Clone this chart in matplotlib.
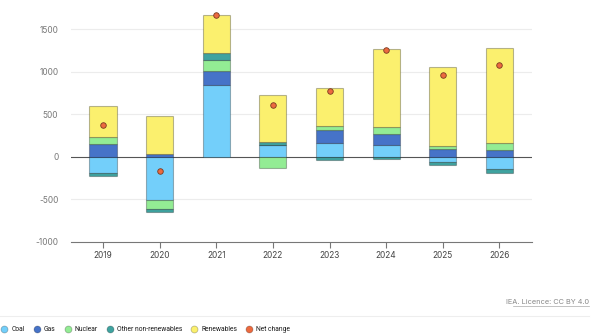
import numpy as np
import matplotlib
matplotlib.use("Agg")
import matplotlib.pyplot as plt
from matplotlib.lines import Line2D

plt.rcParams['font.family'] = ['Inter', 'DejaVu Sans']
plt.rcParams['axes.unicode_minus'] = False

# Annual change by source
years = ['2019', '2020', '2021', '2022', '2023', '2024', '2025', '2026']
coal = [-195, -505, 847, 135, 159, 132, -68, -147]
gas = [147, 30, 161, 0, 154, 133, 88, 80]
nuclear = [83, -115, 130, -132, 50, 83, 39, 83]
other = [-35, -35, 79, 35, -41, -26, -36, -51]
renewables = [370, 445, 448, 559, 448, 920, 932, 1113]
net_change = [375, -175, 1665, 604, 772, 1256, 965, 1083]

series = [
    ('Coal', coal, '#73cffa'),
    ('Gas', gas, '#4673c8'),
    ('Nuclear', nuclear, '#93ec94'),
    ('Other non-renewables', other, '#3fa3a0'),
    ('Renewables', renewables, '#fbf06e'),
]
net_color = '#ec6a3f'

fig = plt.figure(figsize=(6, 3.35), dpi=100)
ax = fig.add_axes([0.118, 0.279, 0.769, 0.697])

x = np.arange(len(years))
width = 0.48
pos_base = np.zeros(len(years))
neg_base = np.zeros(len(years))
for name, vals, color in series:
    v = np.array(vals, dtype=float)
    bottom = np.where(v >= 0, pos_base, neg_base)
    ax.bar(x, v, width, bottom=bottom, color=color, edgecolor=(0, 0, 0, 0.28),
           linewidth=0.8, zorder=3)
    pos_base += np.clip(v, 0, None)
    neg_base += np.clip(v, None, 0)

ax.scatter(x, net_change, s=16, color=net_color, edgecolor='#7a3a20',
           linewidth=0.6, zorder=5)

ax.set_xlim(-0.57, 7.58)
ax.set_ylim(-1000, 1750)
ax.set_yticks([-1000, -500, 0, 500, 1000, 1500])
ax.set_xticks(x)
ax.set_xticklabels(years)
for yv in [-500, 500, 1000, 1500]:
    ax.axhline(yv, color='#ececec', linewidth=0.8, zorder=1)
ax.axhline(0, color='#555555', linewidth=0.8, zorder=2)

for s in ['top', 'right', 'left']:
    ax.spines[s].set_visible(False)
ax.spines['bottom'].set_color('#777777')
ax.spines['bottom'].set_linewidth(0.8)
ax.tick_params(axis='y', length=0, pad=9, labelsize=6, labelcolor='#777777')
ax.tick_params(axis='x', length=4, width=0.8, color='#777777', pad=3,
               labelsize=6, labelcolor='#444444')

# Legend along the bottom edge
handles = [Line2D([], [], marker='o', linestyle='none', markersize=5,
                  markerfacecolor=c, markeredgecolor=(0, 0, 0, 0.25),
                  markeredgewidth=0.6, label=n) for n, _, c in series]
handles.append(Line2D([], [], marker='o', linestyle='none', markersize=5,
                      markerfacecolor=net_color, markeredgecolor=(0, 0, 0, 0.25),
                      markeredgewidth=0.6, label='Net change'))
fig.legend(handles=handles, loc='lower left', bbox_to_anchor=(-0.008, -0.012),
           ncol=6, frameon=False, handletextpad=0.55, columnspacing=1.35,
           handlelength=0.9, labelcolor='#1a1a1a',
           prop={'family': 'Roboto', 'size': 4.9})

# Source note and separator
fig.text(0.982, 0.1, 'IEA. Licence: CC BY 4.0', ha='right', va='center',
         fontsize=5.3, color='#888888')
fig.add_artist(Line2D([0.855, 0.982], [0.086, 0.086], color='#aaaaaa',
                      linewidth=0.5, transform=fig.transFigure))
fig.add_artist(Line2D([0.0, 0.982], [0.057, 0.057], color='#eeeeee',
                      linewidth=0.8, transform=fig.transFigure))

fig.savefig('out.png', dpi=100)
